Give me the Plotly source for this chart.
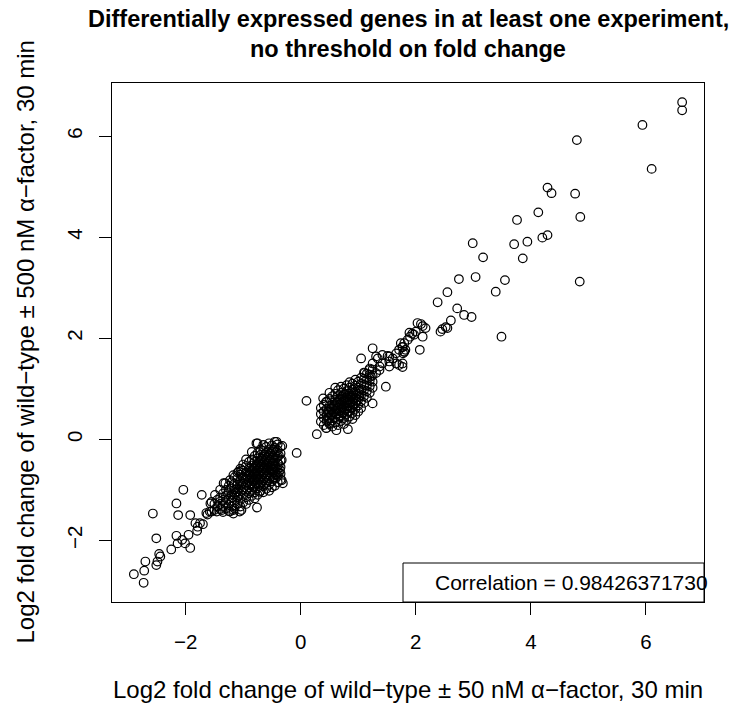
import plotly.graph_objects as go

# ---------------- data ----------------
# sparse points in the lower-left tail
tail_low = [(-2.90,-2.67),(-2.72,-2.60),(-2.73,-2.84),(-2.70,-2.42),(-2.51,-2.49),(-2.49,-2.42),
            (-2.44,-2.32),(-2.46,-2.27),(-2.51,-1.96),(-2.57,-1.47),(-2.25,-2.18),(-2.16,-1.27),
            (-2.04,-1.00),(-2.13,-1.50),(-1.92,-1.50),(-2.16,-1.91),(-2.06,-1.99),(-1.95,-1.89),
            (-2.01,-2.06),(-1.92,-2.15),(-2.14,-2.06),(-1.83,-1.66),(-1.79,-1.73),(-1.80,-1.81),
            (-1.70,-1.68),(-1.72,-1.10),(-1.62,-1.49),(-1.55,-1.43),(-1.46,-1.43),(-1.37,-1.40),
            (-1.57,-1.27),(-1.49,-1.10),(-1.40,-1.00),(-1.31,-0.87),(-1.23,-0.81),(-1.17,-1.40),
            (-1.03,-1.40),(-0.76,-1.35),(-1.34,-0.87),(-1.17,-0.71),(-1.08,-0.64),(-1.03,-0.61),
            (-1.55,-1.24),(-1.23,-1.43),(-1.17,-1.47),(-1.06,-1.43),(-0.71,-1.04),
            (-1.64,-1.46),(-1.58,-1.43),(-1.75,-1.66)]

# dense cluster of down-regulated genes
cluster_low = [
    (-0.35,-0.15),(-0.35,-0.28),(-0.35,-0.42),(-0.35,-0.55),(-0.35,-0.68),(-0.35,-0.80),
    (-0.40,-0.10),(-0.40,-0.22),(-0.40,-0.35),(-0.40,-0.47),(-0.40,-0.60),(-0.40,-0.72),(-0.40,-0.85),
    (-0.45,-0.05),(-0.45,-0.17),(-0.45,-0.30),(-0.45,-0.42),(-0.45,-0.53),(-0.45,-0.65),(-0.45,-0.78),(-0.45,-0.92),
    (-0.50,-0.12),(-0.50,-0.25),(-0.50,-0.37),(-0.50,-0.48),(-0.50,-0.60),(-0.50,-0.70),(-0.50,-0.83),(-0.50,-0.95),
    (-0.55,-0.08),(-0.55,-0.20),(-0.55,-0.32),(-0.55,-0.44),(-0.55,-0.56),(-0.55,-0.66),(-0.55,-0.77),(-0.55,-0.90),(-0.55,-1.02),
    (-0.60,-0.15),(-0.60,-0.27),(-0.60,-0.40),(-0.60,-0.51),(-0.60,-0.62),(-0.60,-0.74),(-0.60,-0.86),(-0.60,-0.98),
    (-0.65,-0.11),(-0.65,-0.23),(-0.65,-0.35),(-0.65,-0.47),(-0.65,-0.58),(-0.65,-0.69),(-0.65,-0.81),(-0.65,-0.93),(-0.65,-1.05),
    (-0.70,-0.20),(-0.70,-0.31),(-0.70,-0.43),(-0.70,-0.55),(-0.70,-0.66),(-0.70,-0.78),(-0.70,-0.90),(-0.70,-1.02),
    (-0.75,-0.08),(-0.75,-0.27),(-0.75,-0.38),(-0.75,-0.50),(-0.75,-0.62),(-0.75,-0.73),(-0.75,-0.85),(-0.75,-0.97),(-0.75,-1.10),
    (-0.80,-0.33),(-0.80,-0.45),(-0.80,-0.57),(-0.80,-0.68),(-0.80,-0.80),(-0.80,-0.92),(-0.80,-1.05),(-0.80,-1.17),
    (-0.85,-0.25),(-0.85,-0.40),(-0.85,-0.52),(-0.85,-0.63),(-0.85,-0.75),(-0.85,-0.87),(-0.85,-1.00),(-0.85,-1.12),
    (-0.90,-0.45),(-0.90,-0.58),(-0.90,-0.70),(-0.90,-0.82),(-0.90,-0.95),(-0.90,-1.07),(-0.90,-1.20),
    (-0.95,-0.40),(-0.95,-0.53),(-0.95,-0.66),(-0.95,-0.78),(-0.95,-0.90),(-0.95,-1.02),(-0.95,-1.15),(-0.95,-1.28),
    (-1.00,-0.50),(-1.00,-0.62),(-1.00,-0.75),(-1.00,-0.88),(-1.00,-1.00),(-1.00,-1.12),(-1.00,-1.25),
    (-1.05,-0.58),(-1.05,-0.70),(-1.05,-0.83),(-1.05,-0.95),(-1.05,-1.08),(-1.05,-1.20),(-1.05,-1.33),
    (-1.10,-0.66),(-1.10,-0.78),(-1.10,-0.90),(-1.10,-1.03),(-1.10,-1.15),(-1.10,-1.28),
    (-1.15,-0.75),(-1.15,-0.88),(-1.15,-1.00),(-1.15,-1.12),(-1.15,-1.25),(-1.15,-1.37),
    (-1.20,-0.85),(-1.20,-0.97),(-1.20,-1.10),(-1.20,-1.22),(-1.20,-1.33),
    (-1.25,-0.92),(-1.25,-1.05),(-1.25,-1.18),(-1.25,-1.30),(-1.25,-1.42),
    (-1.30,-1.00),(-1.30,-1.12),(-1.30,-1.25),(-1.30,-1.37),
    (-1.35,-1.07),(-1.35,-1.20),(-1.35,-1.32),(-1.35,-1.44),
    (-1.40,-1.15),(-1.40,-1.28),(-1.40,-1.38),
    (-1.45,-1.20),(-1.45,-1.33),(-1.50,-1.28),(-1.50,-1.40),
    (-0.77,-0.08),(-0.42,-0.05),(-0.32,-0.13),(-0.33,-0.81),(-0.31,-0.87),(-0.36,-0.61),(-0.33,-0.41)]

# extra genes filling the dark core of the down-regulated cluster
core_low = [(-0.38,-0.32),(-0.38,-0.50),(-0.38,-0.66),(-0.43,-0.25),(-0.43,-0.38),(-0.43,-0.58),
            (-0.43,-0.71),(-0.48,-0.20),(-0.48,-0.33),(-0.48,-0.54),(-0.48,-0.66),(-0.48,-0.78),
            (-0.53,-0.27),(-0.53,-0.40),(-0.53,-0.52),(-0.53,-0.62),(-0.53,-0.74),(-0.58,-0.35),
            (-0.58,-0.47),(-0.58,-0.58),(-0.58,-0.70),(-0.58,-0.82),(-0.63,-0.30),(-0.63,-0.43),
            (-0.63,-0.55),(-0.63,-0.66),(-0.63,-0.77),(-0.68,-0.38),(-0.68,-0.50),(-0.68,-0.62),
            (-0.68,-0.73),(-0.68,-0.85),(-0.73,-0.45),(-0.73,-0.57),(-0.73,-0.69),(-0.73,-0.80),
            (-0.73,-0.92),(-0.78,-0.52),(-0.78,-0.63),(-0.78,-0.75),(-0.78,-0.87),(-0.83,-0.58),
            (-0.83,-0.70),(-0.83,-0.82),(-0.83,-0.94),(-0.88,-0.65),(-0.88,-0.77),(-0.88,-0.89),
            (-0.93,-0.72),(-0.93,-0.85),(-0.98,-0.80),(-0.98,-0.95),(-1.03,-0.88),(-1.03,-1.02),
            (-1.08,-0.98),(-1.08,-1.12),(-1.13,-1.05),(-1.18,-1.15)]

# isolated points between and around the two clusters
middle = [(-0.07,-0.27),(0.10,0.76),(0.28,0.10),(0.39,0.81),(0.44,0.74),(0.62,0.18),(0.82,0.20),
          (0.44,0.22),(0.50,0.32),(1.48,1.04),(1.25,0.71)]

# dense cluster of up-regulated genes
cluster_up = [
    (0.35,0.35),(0.35,0.50),(0.35,0.62),
    (0.40,0.28),(0.40,0.42),(0.40,0.55),(0.40,0.68),
    (0.45,0.22),(0.45,0.36),(0.45,0.48),(0.45,0.60),(0.45,0.74),
    (0.50,0.30),(0.50,0.42),(0.50,0.54),(0.50,0.66),(0.50,0.80),(0.50,0.92),
    (0.55,0.25),(0.55,0.37),(0.55,0.48),(0.55,0.60),(0.55,0.72),(0.55,0.85),
    (0.60,0.33),(0.60,0.44),(0.60,0.56),(0.60,0.67),(0.60,0.78),(0.60,0.90),(0.60,1.02),
    (0.65,0.28),(0.65,0.40),(0.65,0.51),(0.65,0.62),(0.65,0.73),(0.65,0.85),(0.65,0.97),
    (0.70,0.36),(0.70,0.47),(0.70,0.58),(0.70,0.69),(0.70,0.80),(0.70,0.92),(0.70,1.04),
    (0.75,0.30),(0.75,0.42),(0.75,0.53),(0.75,0.64),(0.75,0.76),(0.75,0.88),(0.75,1.00),
    (0.80,0.38),(0.80,0.50),(0.80,0.61),(0.80,0.72),(0.80,0.83),(0.80,0.95),(0.80,1.07),
    (0.85,0.45),(0.85,0.56),(0.85,0.67),(0.85,0.78),(0.85,0.90),(0.85,1.02),(0.85,1.13),
    (0.90,0.40),(0.90,0.52),(0.90,0.63),(0.90,0.74),(0.90,0.86),(0.90,0.98),(0.90,1.10),
    (0.95,0.48),(0.95,0.60),(0.95,0.71),(0.95,0.82),(0.95,0.94),(0.95,1.06),(0.95,1.18),
    (1.00,0.55),(1.00,0.67),(1.00,0.78),(1.00,0.90),(1.00,1.02),(1.00,1.14),
    (1.05,0.62),(1.05,0.75),(1.05,0.87),(1.05,0.99),(1.05,1.10),(1.05,1.22),
    (1.10,0.72),(1.10,0.85),(1.10,0.97),(1.10,1.08),(1.10,1.20),(1.10,1.32),
    (1.15,0.82),(1.15,0.95),(1.15,1.06),(1.15,1.18),(1.15,1.30),
    (1.20,0.92),(1.20,1.05),(1.20,1.16),(1.20,1.28),(1.20,1.40),
    (1.25,1.02),(1.25,1.14),(1.25,1.26),(1.25,1.38),(1.25,1.50)]

# extra genes filling the dark core of the up-regulated cluster
core_up = [(0.57,0.52),(0.57,0.64),(0.62,0.50),(0.62,0.60),(0.62,0.72),(0.67,0.45),(0.67,0.56),
           (0.67,0.68),(0.67,0.79),(0.72,0.52),(0.72,0.63),(0.72,0.75),(0.72,0.86),(0.77,0.58),
           (0.77,0.70),(0.77,0.82),(0.82,0.55),(0.82,0.66),(0.82,0.78),(0.82,0.90),(0.87,0.62),
           (0.87,0.73),(0.87,0.85),(0.92,0.68),(0.92,0.80),(0.92,0.92),(0.97,0.76),(0.97,0.88),
           (1.02,0.84),(1.02,0.96),(0.52,0.48),(0.52,0.60),(0.47,0.42),(0.47,0.54)]

# band continuing the up-regulated cluster
band_up = [(1.31,1.64),(1.42,1.67),(1.54,1.64),(1.66,1.70),(1.71,1.77),(1.77,1.83),(1.80,1.90),
           (1.86,1.97),(1.77,1.50),(1.66,1.50),(1.54,1.54),(1.37,1.44),(1.19,1.37),(1.11,1.31),
           (1.05,1.60),(1.25,1.80),(1.34,1.60),(1.51,1.65),(1.60,1.60),(1.71,1.47),(1.77,1.43),
           (1.54,1.44),(1.37,1.37),(1.31,1.31),(1.22,1.24),(1.42,1.50),(1.80,1.73),(1.78,1.70),
           (1.82,1.77)]

# sparse points in the upper-right tail
tail_high = [(6.63,6.67),(6.63,6.51),(5.94,6.22),(4.80,5.92),(6.10,5.35),(4.29,4.98),(4.36,4.87),
             (4.77,4.86),(4.13,4.49),(3.76,4.34),(4.86,4.40),(4.20,3.99),(4.29,4.04),(3.94,3.91),
             (3.71,3.86),(2.99,3.88),(3.17,3.60),(3.86,3.58),(2.75,3.17),(3.04,3.21),(3.55,3.15),
             (4.85,3.12),(2.55,2.91),(3.39,2.92),(2.38,2.71),(2.72,2.59),(2.84,2.46),(2.97,2.42),
             (2.61,2.35),(3.49,2.03),(2.52,2.22),(2.46,2.18),(2.43,2.13),(2.55,2.20),(2.03,2.30),
             (2.09,2.28),(2.12,2.24),(2.17,2.20),(1.89,2.11),(1.94,2.09),(2.00,2.13),(2.12,2.03),
             (2.07,1.77),(1.74,1.90),(1.77,1.82),(1.80,1.73),(1.90,2.03),(1.97,2.07)]

x_ticks = [-2, 0, 2, 4, 6]
y_ticks = [-2, 0, 2, 4, 6]
correlation_text = "Correlation = 0.98426371730"

title_line1 = "Differentially expressed genes in at least one experiment,"
title_line2 = "no threshold on fold change"
x_title = "Log2 fold change of wild\u2212type \u00b1 50 nM \u03b1\u2212factor, 30 min"
y_title = "Log2 fold change of wild\u2212type \u00b1 500 nM \u03b1\u2212factor, 30 min"

# ---------------- figure ----------------
pts = tail_low + cluster_low + core_low + middle + cluster_up + core_up + band_up + tail_high
xs = [p[0] for p in pts]
ys = [p[1] for p in pts]

FONT = "Liberation Sans, Arial, Helvetica, sans-serif"
W, H = 742, 706
L, R, T, B = 112, 38, 83, 104
pw, ph = W - L - R, H - T - B

def px_x(px):
    return (px - L) / pw

def px_y(py):
    return (H - B - py) / ph

fig = go.Figure()
fig.add_trace(go.Scatter(
    x=xs, y=ys, mode="markers",
    marker=dict(symbol="circle-open", size=8.6, color="black", line=dict(width=1.2)),
    showlegend=False, hoverinfo="x+y"))

axis_common = dict(showgrid=False, zeroline=False, showline=True, mirror=True,
                   linecolor="black", linewidth=1, ticks="outside", ticklen=12,
                   tickcolor="black", tickwidth=1,
                   tickfont=dict(family=FONT, size=20.5, color="black"))

fig.update_layout(
    width=W, height=H, autosize=False,
    margin=dict(l=L, r=R, t=T, b=B, pad=0),
    paper_bgcolor="white", plot_bgcolor="white",
    font=dict(family=FONT, color="black"),
    xaxis=dict(range=[-3.28, 7.01], tickvals=x_ticks, ticklabelstandoff=9, **axis_common),
    yaxis=dict(range=[-3.22, 7.05], tickvals=y_ticks, tickangle=-90, ticklabelstandoff=9, **axis_common),
    shapes=[dict(type="rect", xref="paper", yref="paper",
                 x0=px_x(403), x1=1, y0=0, y1=px_y(563),
                 line=dict(color="black", width=1), fillcolor="white", layer="above")],
    annotations=[
        dict(text=f"<b>{title_line1}</b>", xref="paper", yref="paper", x=0.5, y=px_y(19),
             xanchor="center", yanchor="middle", showarrow=False,
             font=dict(family=FONT, size=23.5, color="black")),
        dict(text=f"<b>{title_line2}</b>", xref="paper", yref="paper", x=0.5, y=px_y(49),
             xanchor="center", yanchor="middle", showarrow=False,
             font=dict(family=FONT, size=23.5, color="black")),
        dict(text=x_title, xref="paper", yref="paper", x=0.5, y=px_y(689),
             xanchor="center", yanchor="middle", showarrow=False,
             font=dict(family=FONT, size=24, color="black")),
        dict(text=y_title, xref="paper", yref="paper", x=px_x(25), y=0.5, textangle=-90,
             xanchor="center", yanchor="middle", showarrow=False,
             font=dict(family=FONT, size=24, color="black")),
        dict(text=correlation_text, xref="paper", yref="paper", x=px_x(433), y=px_y(582),
             xanchor="left", yanchor="middle", showarrow=False,
             font=dict(family=FONT, size=21, color="black")),
    ],
)

fig.write_html("out.html")
